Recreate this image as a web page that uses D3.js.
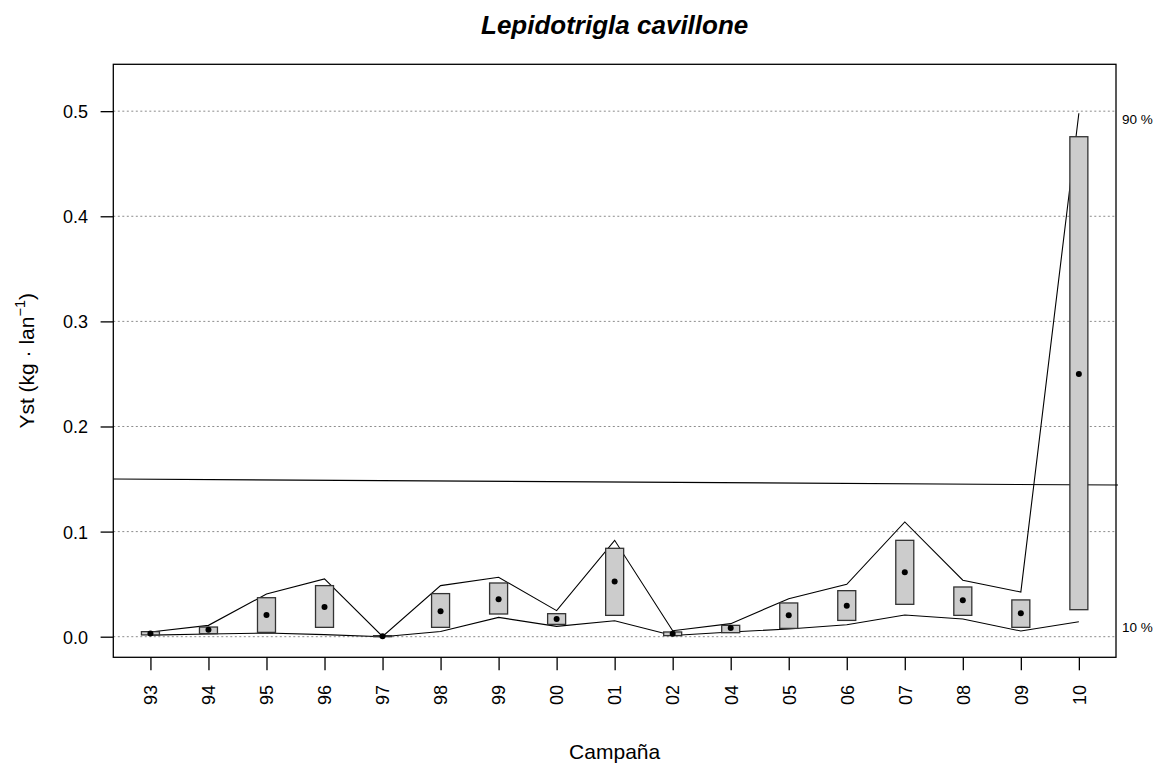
<!DOCTYPE html>
<html>
<head>
<meta charset="utf-8">
<script src="https://cdn.jsdelivr.net/npm/d3@7"></script>
<style>
  html, body { margin: 0; padding: 0; background: #fff; }
  svg { display: block; font-family: "Liberation Sans", Arial, sans-serif; }
</style>
</head>
<body>
<svg id="chart" width="1161" height="764"></svg>
<script>
const title = "Lepidotrigla cavillone";
const categories = ["93","94","95","96","97","98","99","00","01","02","04","05","06","07","08","09","10"];
const meanValues = [0.0030,0.0067,0.0206,0.0283,0.0005,0.0241,0.0356,0.0168,0.0524,0.0029,0.0083,0.0203,0.0295,0.0613,0.0346,0.0222,0.2500];
const boxLow     = [0.0017,0.0029,0.0041,0.0089,0.0000,0.0089,0.0216,0.0117,0.0203,0.0010,0.0038,0.0079,0.0155,0.0308,0.0203,0.0089,0.0257];
const boxHigh    = [0.0048,0.0092,0.0371,0.0486,0.0010,0.0410,0.0511,0.0219,0.0841,0.0045,0.0108,0.0321,0.0438,0.0917,0.0473,0.0350,0.4757];
const upper90    = [0.0045,0.0108,0.0406,0.0550,0.0002,0.0486,0.0565,0.0248,0.0917,0.0057,0.0124,0.0362,0.0498,0.1092,0.0537,0.0425,0.4980];
const lower10    = [0.0015,0.0025,0.0035,0.0020,0.0000,0.0050,0.0184,0.0098,0.0152,0.0012,0.0045,0.0073,0.0114,0.0206,0.0168,0.0054,0.0143];
const refLine    = [0.1500, 0.1443];   // trend line value at left and right edges
const yTicks     = [0.0, 0.1, 0.2, 0.3, 0.4, 0.5];
const quantLabels = ["90 %", "10 %"];
const xTitle = "Campaña";

const svg = d3.select("#chart");
const plot = { left: 113.3, right: 1116, top: 64.3, bottom: 657.3 };

const x = d3.scaleLinear().domain([0.36, categories.length + 0.64]).range([plot.left, plot.right]);
const y = d3.scaleLinear().domain([-0.0196, 0.5446]).range([plot.bottom, plot.top]);
const idx = d3.range(categories.length);

// gridlines
svg.append("g").selectAll("line").data(yTicks).join("line")
  .attr("x1", plot.left).attr("x2", plot.right)
  .attr("y1", d => y(d)).attr("y2", d => y(d))
  .attr("stroke", "#8c8c8c").attr("stroke-width", 1)
  .attr("stroke-dasharray", "2,2.5");

// trend line
svg.append("line")
  .attr("x1", plot.left).attr("x2", plot.right + 2)
  .attr("y1", y(refLine[0])).attr("y2", y(refLine[1]))
  .attr("stroke", "#000").attr("stroke-width", 1.1);

// quantile lines
const line = d3.line().x(i => x(i + 1));
svg.append("path").datum(idx)
  .attr("d", line.y(i => y(upper90[i])))
  .attr("fill", "none").attr("stroke", "#000").attr("stroke-width", 1.1);
svg.append("path").datum(idx)
  .attr("d", line.y(i => y(lower10[i])))
  .attr("fill", "none").attr("stroke", "#000").attr("stroke-width", 1.1);

// boxes
const bw = 18;
svg.append("g").selectAll("rect").data(idx).join("rect")
  .attr("x", i => x(i + 1) - bw / 2)
  .attr("width", bw)
  .attr("y", i => y(boxHigh[i]))
  .attr("height", i => Math.max(1, y(boxLow[i]) - y(boxHigh[i])))
  .attr("fill", "#cccccc").attr("stroke", "#333").attr("stroke-width", 1.3);

// mean points
svg.append("g").selectAll("circle").data(idx).join("circle")
  .attr("cx", i => x(i + 1)).attr("cy", i => y(meanValues[i]))
  .attr("r", 3).attr("fill", "#000");

// frame
svg.append("rect")
  .attr("x", plot.left).attr("y", plot.top)
  .attr("width", plot.right - plot.left).attr("height", plot.bottom - plot.top)
  .attr("fill", "none").attr("stroke", "#000").attr("stroke-width", 1.3);

// y axis
const yAxis = d3.axisLeft(y).tickValues(yTicks).tickFormat(d3.format(".1f")).tickSize(12.7).tickPadding(12.6);
const gy = svg.append("g").attr("transform", `translate(${plot.left},0)`).call(yAxis);
gy.select(".domain").remove();
gy.selectAll(".tick line").attr("stroke", "#000").attr("stroke-width", 1.3);
gy.selectAll(".tick text").attr("font-size", 18).attr("fill", "#000")
  .attr("font-family", "Liberation Sans, Arial, sans-serif").attr("dy", "0.36em");

// x axis
const xAxis = d3.axisBottom(x).tickValues(idx.map(i => i + 1)).tickFormat(d => categories[d - 1]).tickSize(13).tickPadding(4);
const gx = svg.append("g").attr("transform", `translate(0,${plot.bottom})`).call(xAxis);
gx.select(".domain").remove();
gx.selectAll(".tick line").attr("stroke", "#000").attr("stroke-width", 1.3);
gx.selectAll(".tick text")
  .attr("font-size", 18).attr("fill", "#000")
  .attr("font-family", "Liberation Sans, Arial, sans-serif")
  .attr("transform", "rotate(-90)")
  .attr("text-anchor", "end")
  .attr("x", -27.7).attr("y", 0).attr("dy", "0.35em");

// right-hand quantile labels
const lastI = categories.length - 1;
svg.append("g").selectAll("text").data([upper90[lastI], lower10[lastI]]).join("text")
  .attr("x", plot.right + 6)
  .attr("y", d => y(d) + 5.5)
  .attr("dy", "0.35em")
  .attr("font-size", 13.5).attr("fill", "#000")
  .text((d, k) => quantLabels[k]);

// title
svg.append("text")
  .attr("x", (plot.left + plot.right) / 2).attr("y", 34)
  .attr("text-anchor", "middle")
  .attr("font-size", 26).attr("font-weight", "bold").attr("font-style", "italic")
  .text(title);

// x title
svg.append("text")
  .attr("x", (plot.left + plot.right) / 2).attr("y", 759)
  .attr("text-anchor", "middle").attr("font-size", 21)
  .text(xTitle);

// y title
const yt = svg.append("text")
  .attr("transform", `translate(34,${(plot.top + plot.bottom) / 2}) rotate(-90)`)
  .attr("text-anchor", "middle").attr("font-size", 21);
yt.append("tspan").text("Yst (kg · lan");
yt.append("tspan").attr("font-size", 14.5).attr("dy", "-0.6em").text("−1");
yt.append("tspan").attr("dy", "0.42em").text(")");
</script>
</body>
</html>
